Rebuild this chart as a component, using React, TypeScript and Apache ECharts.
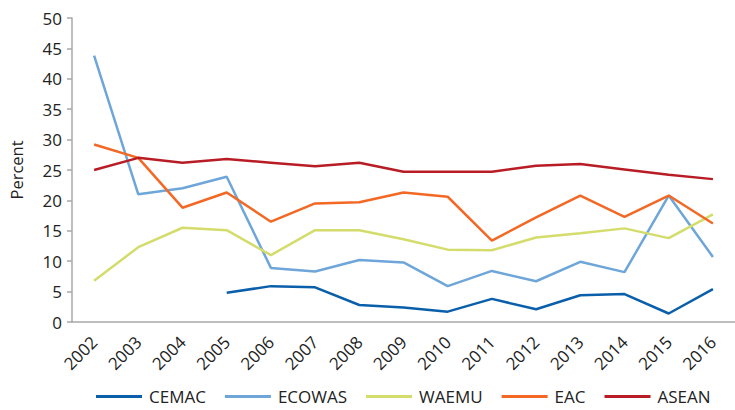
import React, { useEffect, useRef } from "react";
import * as echarts from "echarts";

const years = ["2002","2003","2004","2005","2006","2007","2008","2009","2010","2011","2012","2013","2014","2015","2016"];
const cemac = [null, null, null, 4.8, 5.9, 5.7, 2.8, 2.4, 1.7, 3.8, 2.1, 4.4, 4.6, 1.4, 5.4];
const ecowas = [43.8, 21, 22, 23.9, 8.9, 8.3, 10.2, 9.8, 5.9, 8.4, 6.7, 9.9, 8.2, 20.8, 10.7];
const waemu = [6.8, 12.3, 15.5, 15.1, 11, 15.1, 15.1, 13.6, 11.9, 11.8, 13.9, 14.6, 15.4, 13.8, 17.7];
const eac = [29.2, 27, 18.8, 21.3, 16.5, 19.5, 19.7, 21.3, 20.6, 13.4, 17.2, 20.8, 17.3, 20.8, 16.2];
const asean = [25, 27, 26.2, 26.8, 26.2, 25.6, 26.2, 24.7, 24.7, 24.7, 25.7, 26, 25.1, 24.2, 23.5];

const seriesDefs = [
  { name: "CEMAC", data: cemac, color: "#0a5faa" },
  { name: "ECOWAS", data: ecowas, color: "#6ea6da" },
  { name: "WAEMU", data: waemu, color: "#d4dc6c" },
  { name: "EAC", data: eac, color: "#f26824" },
  { name: "ASEAN", data: asean, color: "#b81d25" },
];

const FONT = "Open Sans";

export default function App() {
  const ref = useRef<HTMLDivElement>(null);
  useEffect(() => {
    if (!ref.current) return;
    const chart = echarts.init(ref.current, null, { renderer: "svg" });
    chart.setOption({
      animation: false,
      textStyle: { fontFamily: FONT },
      grid: { left: 71, right: 0, top: 18, bottom: 88 },
      legend: {
        left: 96,
        top: 388,
        padding: 0,
        itemWidth: 46,
        itemHeight: 3,
        itemGap: 19,
        icon: "rect",
        textStyle: { fontSize: 17, lineHeight: 17, color: "#222", fontFamily: FONT, padding: [0, 0, 0, 2] },
        data: seriesDefs.map((s) => s.name),
      },
      xAxis: {
        type: "category",
        data: years,
        boundaryGap: true,
        axisLine: { lineStyle: { color: "#a8a8a8", width: 1.5 } },
        axisTick: { length: 5, lineStyle: { color: "#a8a8a8", width: 1.5 } },
        axisLabel: { rotate: 45, fontSize: 17, color: "#222", margin: 17, fontFamily: FONT },
      },
      yAxis: {
        type: "value",
        min: 0,
        max: 50,
        interval: 5,
        name: "Percent",
        nameLocation: "middle",
        nameGap: 47,
        nameTextStyle: { fontSize: 16.5, color: "#222", fontFamily: FONT },
        axisLine: { show: true, lineStyle: { color: "#a8a8a8", width: 1.5 } },
        axisTick: { show: true, length: 5, lineStyle: { color: "#a8a8a8", width: 1.5 } },
        splitLine: { show: false },
        axisLabel: { fontSize: 17, color: "#222", margin: 10, fontFamily: FONT },
      },
      series: seriesDefs.map((s) => ({
        name: s.name,
        type: "line",
        data: s.data,
        symbol: "none",
        connectNulls: false,
        lineStyle: { color: s.color, width: 2.5 },
        itemStyle: { color: s.color },
      })),
    });
    return () => chart.dispose();
  }, []);
  return <div ref={ref} style={{ width: 735, height: 410, position: "absolute", left: 0, top: 0 }} />;
}
